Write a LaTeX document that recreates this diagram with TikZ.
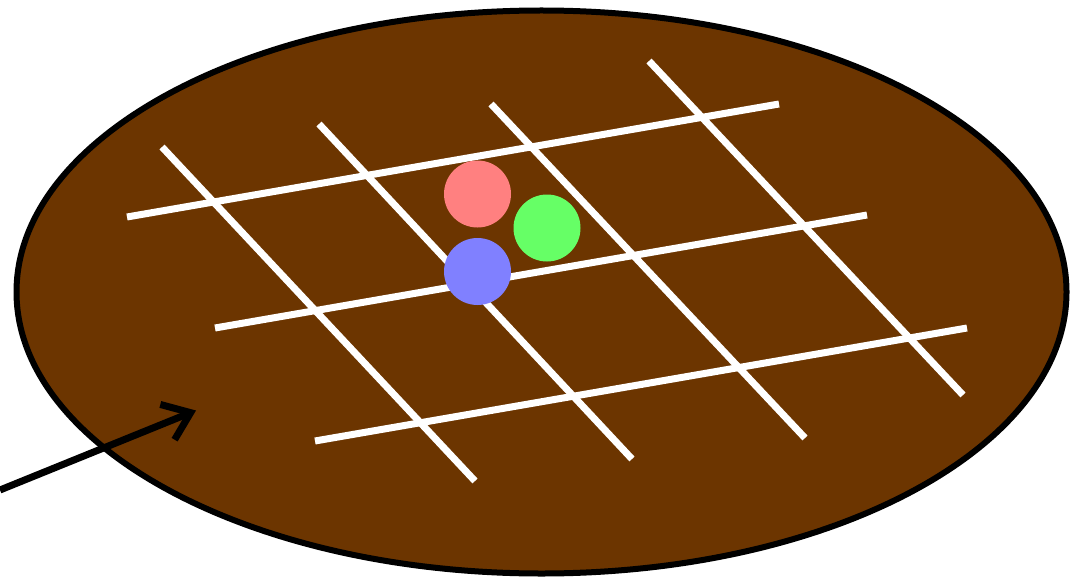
\documentclass[tikz,border=0pt]{standalone}
\usetikzlibrary{arrows.meta,shapes.geometric}
\definecolor{soil}{RGB}{108,53,0}
\definecolor{dotred}{RGB}{255,128,128}
\definecolor{dotgreen}{RGB}{102,255,102}
\definecolor{dotblue}{RGB}{128,128,255}
\tikzset{
  gridline/.style={white,line width=7pt},
  dot/.style={circle,minimum size=67pt,inner sep=0pt},
}
\begin{document}
\begin{tikzpicture}[x=1pt,y=-1pt]
\useasboundingbox (0,0) rectangle (1075,580);
\node[ellipse,draw=black,fill=soil,line width=6pt,minimum width=1050pt,minimum height=563pt,inner sep=0pt] (plate) at (541.5,292) {};
% near-horizontal lines
\draw[gridline] (127,217) -- (779,104);
\draw[gridline] (215,328) -- (867,215);
\draw[gridline] (315,441) -- (967,328);
% diagonal lines
\draw[gridline] (162,147) -- (475,481);
\draw[gridline] (319,124) -- (632,459);
\draw[gridline] (491,104) -- (805,438);
\draw[gridline] (649,61) -- (963,395);
% dots
\node[dot,fill=dotred] (r) at (477.5,194) {};
\node[dot,fill=dotgreen] (g) at (547,228) {};
\node[dot,fill=dotblue] (b) at (477.5,271.5) {};
% arrow
\coordinate (from) at (0,490);
\coordinate (to) at (196,410.5);
\draw[line width=7pt,-{Straight Barb[length=25pt,width=38pt]}] (from) -- (to);
\end{tikzpicture}
\end{document}
